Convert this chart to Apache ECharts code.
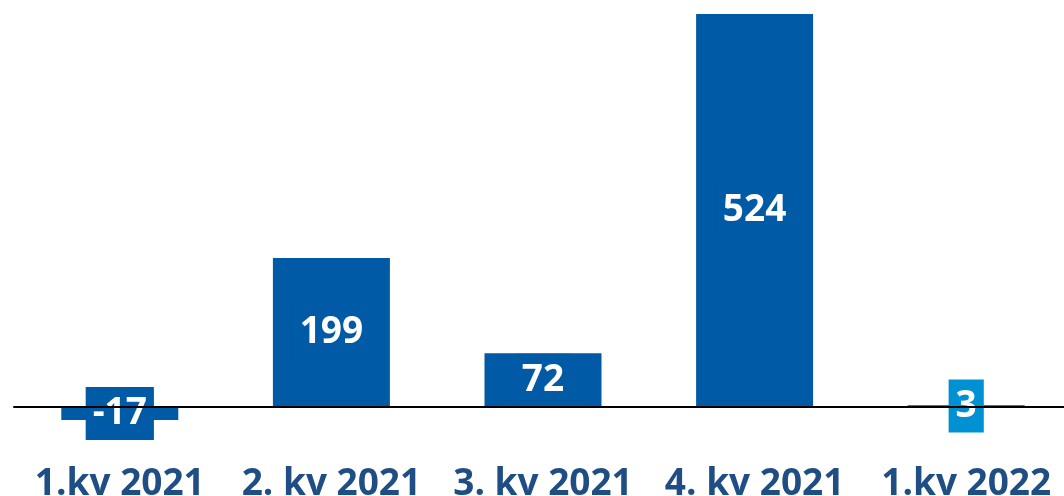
<!DOCTYPE html>
<html>
<head>
<meta charset="utf-8">
<script src="https://cdn.jsdelivr.net/npm/echarts@6/dist/echarts.min.js"></script>
<style>
  html,body{margin:0;padding:0;background:#fff;}
  #chart_wrap{width:1064px;height:496px;}
</style>
</head>
<body>
<div id="chart_wrap"></div>
<script>
var categories=['1.kv 2021','2. kv 2021','3. kv 2021','4. kv 2021','1.kv 2022'];
var values=[-17,199,72,524,3];

var darkBlue='#005AA6';
var lightBlue='#0091D2';
var fontFam='"Open Sans", sans-serif';

var chart=echarts.init(document.getElementById('chart_wrap'));

// last quarter is drawn in the lighter blue
var seriesData=values.map(function(v,i){
  var c=(i===values.length-1)?lightBlue:darkBlue;
  return {
    value:v,
    itemStyle:{color:c},
    label:{backgroundColor:c}
  };
});

var option={
  animation:false,
  grid:{left:14,right:-8,top:14,bottom:76,containLabel:false,outerBoundsMode:'none'},
  xAxis:{
    type:'category',
    data:categories,
    axisLine:{show:true,onZero:true,lineStyle:{color:'#000',width:2}},
    axisTick:{show:false},
    axisLabel:{
      interval:0,
      margin:46,
      color:'#1F4E85',
      fontFamily:fontFam,
      fontWeight:'bold',
      fontSize:37
    },
    z:10
  },
  yAxis:{
    type:'value',
    min:-17,
    max:524,
    show:false,
    splitLine:{show:false}
  },
  series:[{
    type:'bar',
    barWidth:117,
    data:seriesData,
    label:{
      show:true,
      position:'inside',
      color:'#fff',
      fontFamily:fontFam,
      fontWeight:'bold',
      fontSize:37,
      lineHeight:40,
      padding:[11,7,2,7]
    }
  }]
};

chart.setOption(option);
</script>
</body>
</html>
